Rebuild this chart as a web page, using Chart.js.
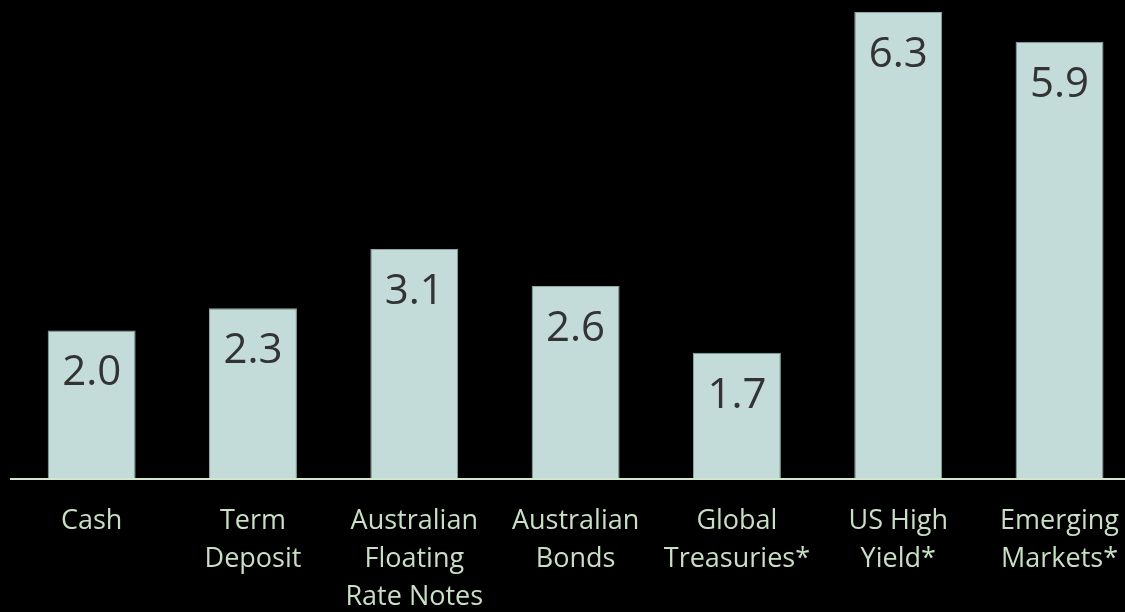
<!DOCTYPE html>
<html>
<head>
<meta charset="utf-8">
<title>Yields by asset class</title>
<script src="https://cdn.jsdelivr.net/npm/chart.js@4/dist/chart.umd.min.js"></script>
<style>
  html, body { margin: 0; padding: 0; background: #000; overflow: hidden; }
  #wrap { position: relative; width: 1143px; height: 640px; }
</style>
</head>
<body>
<div id="wrap"><canvas id="yieldChart" width="1143" height="640"></canvas></div>
<script>
const categories = [
  ["Cash"],
  ["Term", "Deposit"],
  ["Australian", "Floating", "Rate Notes"],
  ["Australian", "Bonds"],
  ["Global", "Treasuries*"],
  ["US High", "Yield*"],
  ["Emerging", "Markets*"],
];
const yields = [2.0, 2.3, 3.1, 2.6, 1.7, 6.3, 5.9];

const barFill = "#c3dcd9";
const labelColor = "#c9dfc5";

// draws each bar's value just inside its top edge
const valueLabels = {
  id: "valueLabels",
  afterDatasetsDraw(chart) {
    const { ctx } = chart;
    const meta = chart.getDatasetMeta(0);
    ctx.save();
    ctx.font = "42px 'Open Sans'";
    ctx.fillStyle = "#333333";
    ctx.textAlign = "center";
    ctx.textBaseline = "middle";
    meta.data.forEach((bar, i) => {
      const v = chart.data.datasets[0].data[i];
      ctx.fillText(v.toFixed(1), bar.x, bar.y + 43);
    });
    ctx.restore();
  },
};

new Chart(document.getElementById("yieldChart"), {
  type: "bar",
  data: {
    labels: categories,
    datasets: [
      {
        data: yields,
        backgroundColor: barFill,
        borderColor: "#8fa8a3",
        borderWidth: 1,
        borderSkipped: "bottom",
        barPercentage: 0.545,
        categoryPercentage: 1,
      },
    ],
  },
  options: {
    responsive: false,
    animation: false,
    devicePixelRatio: 1,
    layout: { padding: { left: 11, right: 0, top: 1, bottom: 0 } },
    plugins: {
      legend: { display: false },
      tooltip: { enabled: false },
    },
    scales: {
      x: {
        grid: { display: false, drawTicks: false },
        border: { display: true, color: "#d3e6cf", width: 2 },
        ticks: {
          color: labelColor,
          font: { family: "'Open Sans'", size: 27, lineHeight: 1.4 },
          padding: 24,
          maxRotation: 0,
          autoSkip: false,
        },
      },
      y: {
        display: false,
        min: 0,
        max: 6.45,
      },
    },
  },
  plugins: [valueLabels],
});
</script>
</body>
</html>
